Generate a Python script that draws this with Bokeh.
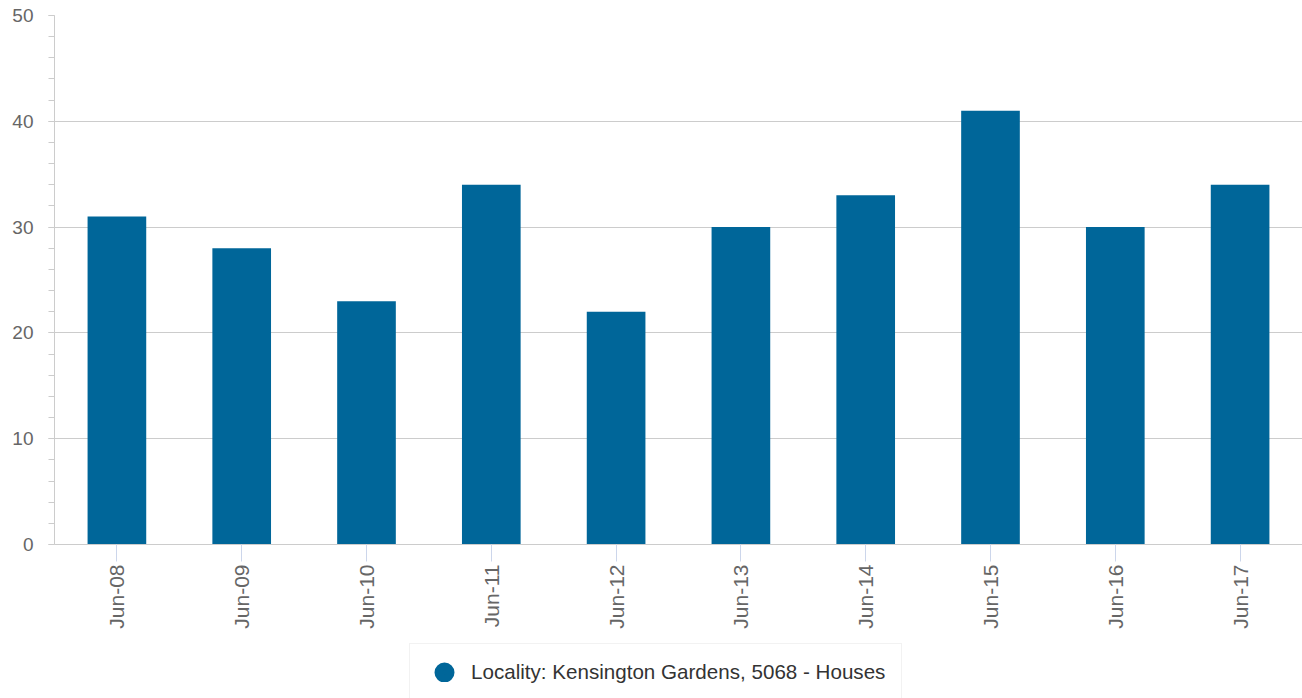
import math
from bokeh.plotting import figure
from bokeh.layouts import column
from bokeh.models import Legend, LegendItem, FactorRange, Range1d, SingleIntervalTicker
from bokeh.embed import file_html
from bokeh.resources import INLINE

categories = ["Jun-08", "Jun-09", "Jun-10", "Jun-11", "Jun-12",
              "Jun-13", "Jun-14", "Jun-15", "Jun-16", "Jun-17"]
values = [31, 28, 23, 34, 22, 30, 33, 41, 30, 34]
series_name = "Locality: Kensington Gardens, 5068 - Houses"

FONT = "Liberation Sans"
BAR = "#006699"

p = figure(width=1302, height=640,
           x_range=FactorRange(factors=categories, range_padding=0),
           y_range=Range1d(0, 50),
           output_backend="svg", toolbar_location=None,
           min_border_left=54, min_border_right=0,
           min_border_top=15, min_border_bottom=96)
p.outline_line_color = None
p.background_fill_color = "white"
p.border_fill_color = "white"

bars = p.vbar(x=categories, top=values, width=0.47, fill_color=BAR, line_color=None)

# y axis
p.yaxis.ticker = SingleIntervalTicker(interval=10, num_minor_ticks=5)
p.yaxis.axis_line_color = "#cccccc"
p.yaxis.major_tick_line_color = "#cccccc"
p.yaxis.minor_tick_line_color = "#cccccc"
p.yaxis.major_tick_out = 6
p.yaxis.major_tick_in = 0
p.yaxis.minor_tick_out = 6
p.yaxis.minor_tick_in = 0
p.yaxis.major_label_standoff = 15
p.yaxis.major_label_text_font = FONT
p.yaxis.major_label_text_font_size = "19px"
p.yaxis.major_label_text_color = "#666666"

p.ygrid.grid_line_color = "#cccccc"
p.xgrid.grid_line_color = None

# x axis
p.xaxis.axis_line_color = "#cccccc"
p.xaxis.major_tick_line_color = "#ccd6eb"
p.xaxis.major_tick_out = 17
p.xaxis.major_tick_in = 0
p.xaxis.major_label_orientation = math.pi / 2
p.xaxis.major_label_standoff = 3
p.xaxis.major_label_text_font = FONT
p.xaxis.major_label_text_font_size = "21px"
p.xaxis.major_label_text_color = "#666666"

# legend strip below the chart
q = figure(width=1302, height=58,
           x_range=Range1d(0, 1), y_range=Range1d(0, 1),
           x_axis_type=None, y_axis_type=None,
           output_backend="svg", toolbar_location=None,
           min_border_left=0, min_border_right=0,
           min_border_top=0, min_border_bottom=0)
q.outline_line_color = None
q.xgrid.visible = False
q.ygrid.visible = False
q.border_fill_color = "white"
q.background_fill_color = "white"

dummy = q.scatter(x=[-5], y=[-5], marker="circle", size=8,
                  fill_color=BAR, line_color=BAR, line_width=12)
legend = Legend(items=[LegendItem(label=series_name, renderers=[dummy])],
                location=(355, -3),
                glyph_width=36, glyph_height=20,
                label_standoff=9, label_height=20,
                label_text_font=FONT, label_text_font_size="20.6px",
                label_text_color="#333333",
                border_line_color="#e6e6e6", border_line_width=1,
                background_fill_color="white", background_fill_alpha=1,
                padding=16, margin=0, spacing=0)
q.add_layout(legend, "center")

layout = column(p, q, spacing=0)
open("out.html", "w").write(file_html(layout, INLINE))
